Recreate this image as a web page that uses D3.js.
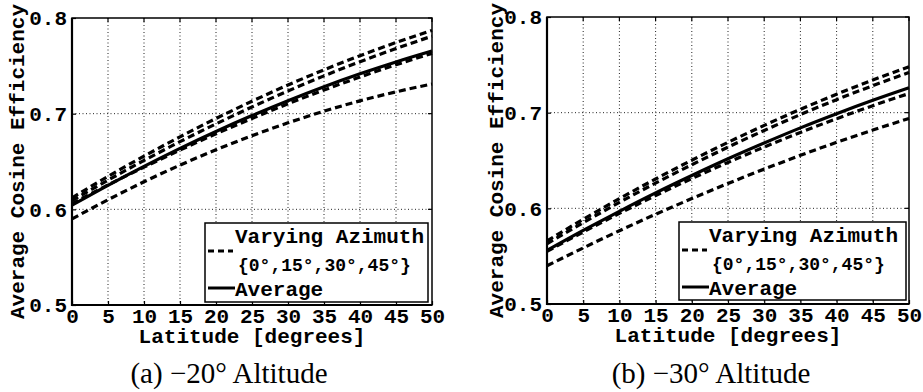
<!DOCTYPE html>
<html>
<head>
<meta charset="utf-8">
<script src="https://cdn.jsdelivr.net/npm/d3@7"></script>
<style>
  html, body { margin: 0; padding: 0; background: #fff; }
  svg { display: block; }
  .mono { font-family: "Liberation Mono", "DejaVu Sans Mono", monospace; font-weight: bold; }
  .cap { font-family: "Liberation Serif", "DejaVu Serif", serif; }
</style>
</head>
<body>
<svg id="chart" width="923" height="392"></svg>
<script>
// Latitude samples shared by every curve
const latitudes = [0, 5, 10, 15, 20, 25, 30, 35, 40, 45, 50];
const xTicks = [0, 5, 10, 15, 20, 25, 30, 35, 40, 45, 50];
const yTicks = [0.5, 0.6, 0.7, 0.8];

// -20° altitude: cosine efficiency for each azimuth, and their average
const alt20Az0  = [0.612, 0.6344, 0.6556, 0.6758, 0.6950, 0.713, 0.7300, 0.7458, 0.7606, 0.7744, 0.787];
const alt20Az15 = [0.609, 0.6305, 0.6511, 0.6707, 0.6893, 0.707, 0.7237, 0.7395, 0.7543, 0.7681, 0.781];
const alt20Az30 = [0.606, 0.6255, 0.6441, 0.6619, 0.6789, 0.695, 0.7103, 0.7247, 0.7383, 0.7511, 0.763];
const alt20Az45 = [0.590, 0.6100, 0.6288, 0.6462, 0.6622, 0.677, 0.6904, 0.7026, 0.7134, 0.7228, 0.731];
const alt20Avg  = [0.6043, 0.6251, 0.6449, 0.6637, 0.6814, 0.698, 0.7136, 0.7282, 0.7417, 0.7541, 0.7655];

// -30° altitude
const alt30Az0  = [0.566, 0.5885, 0.6101, 0.6307, 0.6503, 0.669, 0.6867, 0.7035, 0.7193, 0.7341, 0.748];
const alt30Az15 = [0.563, 0.5850, 0.6062, 0.6264, 0.6456, 0.664, 0.6814, 0.6980, 0.7136, 0.7282, 0.742];
const alt30Az30 = [0.555, 0.5753, 0.5947, 0.6133, 0.6311, 0.648, 0.6641, 0.6793, 0.6937, 0.7073, 0.720];
const alt30Az45 = [0.540, 0.5586, 0.5766, 0.5938, 0.6102, 0.626, 0.6410, 0.6554, 0.6690, 0.6818, 0.694];
const alt30Avg  = [0.556, 0.5769, 0.5969, 0.6161, 0.6343, 0.6518, 0.6683, 0.6841, 0.6989, 0.7129, 0.726];

const legendLines = ["Varying Azimuth", "{0°,15°,30°,45°}", "Average"];
const captions = ["(a) \u221220\u00b0 Altitude", "(b) \u221230\u00b0 Altitude"];
const yLabel = "Average Cosine Efficiency";
const xLabel = "Latitude [degrees]";

const svg = d3.select("#chart");
const FS = 21;

function drawPanel(opts) {
  const { left, right, top, bottom, azSeries, avg, caption, captionX, yLabelX, legendBox } = opts;
  const x = d3.scaleLinear().domain([0, 50]).range([left, right]);
  const y = d3.scaleLinear().domain([0.5, 0.8]).range([bottom, top]);
  const g = svg.append("g");

  // dotted grid
  g.append("g").selectAll("line").data(xTicks.slice(1, -1)).join("line")
    .attr("x1", d => x(d)).attr("x2", d => x(d)).attr("y1", top).attr("y2", bottom)
    .attr("stroke", "#222").attr("stroke-width", 1).attr("stroke-dasharray", "1,2.5");
  g.append("g").selectAll("line").data(yTicks.slice(1, -1)).join("line")
    .attr("x1", left).attr("x2", right).attr("y1", d => y(d)).attr("y2", d => y(d))
    .attr("stroke", "#222").attr("stroke-width", 1).attr("stroke-dasharray", "1,2.5");

  // curves
  const line = d3.line().x((d, i) => x(latitudes[i])).y(d => y(d)).curve(d3.curveMonotoneX);
  azSeries.forEach(s => {
    g.append("path").datum(s).attr("d", line)
      .attr("fill", "none").attr("stroke", "#000").attr("stroke-width", 3.2)
      .attr("stroke-dasharray", "7,4");
  });
  g.append("path").datum(avg).attr("d", line)
    .attr("fill", "none").attr("stroke", "#000").attr("stroke-width", 3.2);

  // frame
  g.append("rect").attr("x", left).attr("y", top).attr("width", right - left).attr("height", bottom - top)
    .attr("fill", "none").attr("stroke", "#000").attr("stroke-width", 1.5);
  g.append("line").attr("x1", left).attr("x2", left).attr("y1", top).attr("y2", bottom + 1)
    .attr("stroke", "#000").attr("stroke-width", 2.2);
  g.append("line").attr("x1", left - 1).attr("x2", right).attr("y1", bottom).attr("y2", bottom)
    .attr("stroke", "#000").attr("stroke-width", 2.2);

  // axes with inward ticks
  const xAxis = g.append("g").attr("transform", `translate(0,${bottom})`)
    .call(d3.axisBottom(x).tickValues(xTicks).tickSize(-4).tickPadding(3).tickFormat(d3.format("d")));
  const yAxis = g.append("g").attr("transform", `translate(${left},0)`)
    .call(d3.axisLeft(y).tickValues(yTicks).tickSize(-4).tickPadding(5).tickFormat(d3.format(".1f")));
  [xAxis, yAxis].forEach(a => {
    a.select(".domain").remove();
    a.selectAll(".tick line").attr("stroke", "#000").attr("stroke-width", 1.2);
    a.selectAll(".tick text").attr("class", "mono").attr("font-size", FS).attr("fill", "#000");
  });
  // ticks mirrored on the top and right edges
  g.append("g").selectAll("line").data(xTicks).join("line")
    .attr("x1", d => x(d)).attr("x2", d => x(d)).attr("y1", top).attr("y2", top + 4)
    .attr("stroke", "#000").attr("stroke-width", 1.2);
  g.append("g").selectAll("line").data(yTicks).join("line")
    .attr("x1", right).attr("x2", right - 4).attr("y1", d => y(d)).attr("y2", d => y(d))
    .attr("stroke", "#000").attr("stroke-width", 1.2);

  // axis titles
  g.append("text").attr("class", "mono").attr("font-size", FS)
    .attr("x", (left + right) / 2).attr("y", bottom + 38).attr("text-anchor", "middle")
    .text(xLabel);
  g.append("text").attr("class", "mono").attr("font-size", FS)
    .attr("transform", `translate(${yLabelX},${(top + bottom) / 2}) rotate(-90)`)
    .attr("text-anchor", "middle").text(yLabel);

  // legend
  const lg = g.append("g").attr("transform", `translate(${legendBox.x},${legendBox.y})`);
  lg.append("rect").attr("width", legendBox.w).attr("height", legendBox.h)
    .attr("fill", "#fff").attr("stroke", "#000").attr("stroke-width", 1.5);
  lg.append("line").attr("x1", 3).attr("x2", 28).attr("y1", 28).attr("y2", 28)
    .attr("stroke", "#000").attr("stroke-width", 3).attr("stroke-dasharray", "6,4");
  lg.append("line").attr("x1", 3).attr("x2", 30).attr("y1", 65).attr("y2", 65)
    .attr("stroke", "#000").attr("stroke-width", 3);
  lg.append("text").attr("class", "mono").attr("font-size", FS)
    .attr("x", 30).attr("y", 20).text(legendLines[0]);
  lg.append("text").attr("class", "mono").attr("font-size", 18)
    .attr("x", 33).attr("y", 48).text(legendLines[1]);
  lg.append("text").attr("class", "mono").attr("font-size", FS)
    .attr("x", 30).attr("y", 73).text(legendLines[2]);

  // caption
  g.append("text").attr("class", "cap").attr("font-size", 29)
    .attr("x", captionX).attr("y", 383).attr("text-anchor", "middle")
    .text(caption);
}

drawPanel({
  left: 72, right: 432, top: 18, bottom: 305,
  azSeries: [alt20Az0, alt20Az15, alt20Az30, alt20Az45], avg: alt20Avg,
  caption: captions[0], captionX: 229, yLabelX: 24,
  legendBox: { x: 205, y: 223, w: 223, h: 79 }
});
drawPanel({
  left: 547, right: 909, top: 17, bottom: 304,
  azSeries: [alt30Az0, alt30Az15, alt30Az30, alt30Az45], avg: alt30Avg,
  caption: captions[1], captionX: 711, yLabelX: 503,
  legendBox: { x: 679, y: 222, w: 227, h: 78 }
});
</script>
</body>
</html>
